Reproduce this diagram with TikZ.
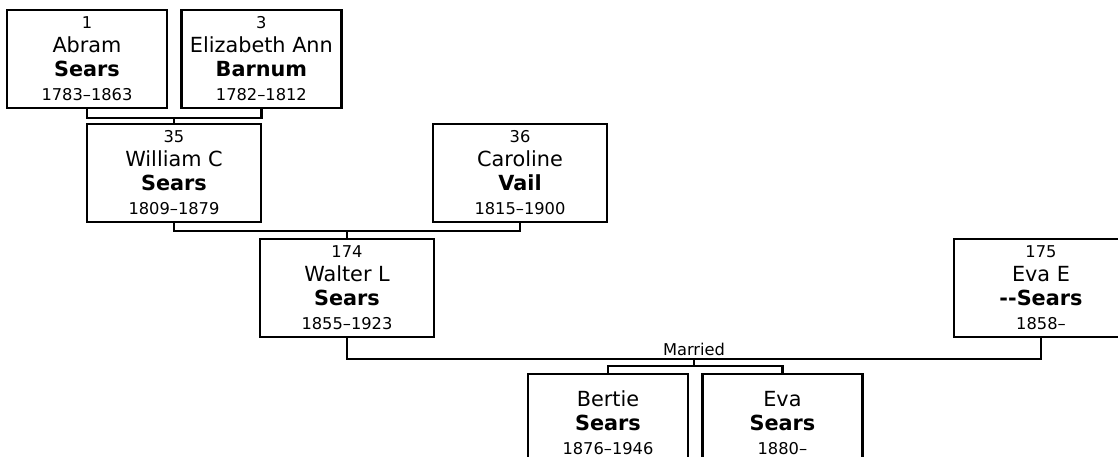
\documentclass[tikz,border=0pt]{standalone}
\usepackage{fontspec}
\setmainfont{DejaVu Sans}
\usetikzlibrary{positioning, calc}

\begin{document}
\begin{tikzpicture}[
    x=0.75pt, y=-0.75pt,
    node distance=10.5pt and 9pt,
    font=\fontsize{12.2}{18}\selectfont,
    person/.style={draw, line width=1.8pt, align=center, minimum width=130.5pt, minimum height=73.5pt, inner sep=1pt},
    narrow/.style={person, minimum width=120pt},
    link/.style={line width=1.8pt}
  ]
    \useasboundingbox (0,0) rectangle (1118,457);
    \node[narrow] (abram) at (87,59)
    {1\\ {\fontsize{15.6}{18}\selectfont Abram}\\ {\fontsize{15.6}{18}\selectfont\bfseries Sears}\\ 1783–1863};
    \node[narrow, right=of abram] (eliz)
    {3\\ {\fontsize{15.6}{18}\selectfont Elizabeth Ann}\\ {\fontsize{15.6}{18}\selectfont\bfseries Barnum}\\ 1782–1812};
    \node[person] (william) at (174,173)
    {35\\ {\fontsize{15.6}{18}\selectfont William C}\\ {\fontsize{15.6}{18}\selectfont\bfseries Sears}\\ 1809–1879};
    \node[person] (caroline) at (520,173)
    {36\\ {\fontsize{15.6}{18}\selectfont Caroline}\\ {\fontsize{15.6}{18}\selectfont\bfseries Vail}\\ 1815–1900};
    \node[person] (walter) at (347,288)
    {174\\ {\fontsize{15.6}{18}\selectfont Walter L}\\ {\fontsize{15.6}{18}\selectfont\bfseries Sears}\\ 1855–1923};
    \node[person] (evae) at (1041,288)
    {175\\ {\fontsize{15.6}{18}\selectfont Eva E}\\ {\fontsize{15.6}{18}\selectfont\bfseries -{}-Sears}\\ 1858–};
    \node[narrow] (bertie) at (608,423)
    {{\fontsize{15.6}{18}\selectfont Bertie}\\ {\fontsize{15.6}{18}\selectfont\bfseries Sears}\\ 1876–1946};
    \node[narrow, right=of bertie] (eva)
    {{\fontsize{15.6}{18}\selectfont Eva}\\ {\fontsize{15.6}{18}\selectfont\bfseries Sears}\\ 1880–};
    \path (abram.south) ++(0,9) coordinate (j1);
    \draw[link] (abram.south) -- (j1) -| (eliz.south);
    \draw[link] (j1 -| william.north) -- (william.north);
    \path (william.south) ++(0,8) coordinate (j2);
    \draw[link] (william.south) -- (j2) -| (caroline.south);
    \draw[link] (j2 -| walter.north) -- (walter.north);
    \path (walter.south) ++(0,21) coordinate (j3);
    \draw[link] (walter.south) -- (j3) -| (evae.south);
    \coordinate (mid) at ($(j3)!0.5!(j3 -| evae.south)$);
    \node[above, inner sep=2.5pt] (married) at (mid) {Married};
    \draw[link] (mid) -- ++(0,7) coordinate (j4);
    \draw[link] (bertie.north) |- (j4) -| (eva.north);
  \end{tikzpicture}
\end{document}
